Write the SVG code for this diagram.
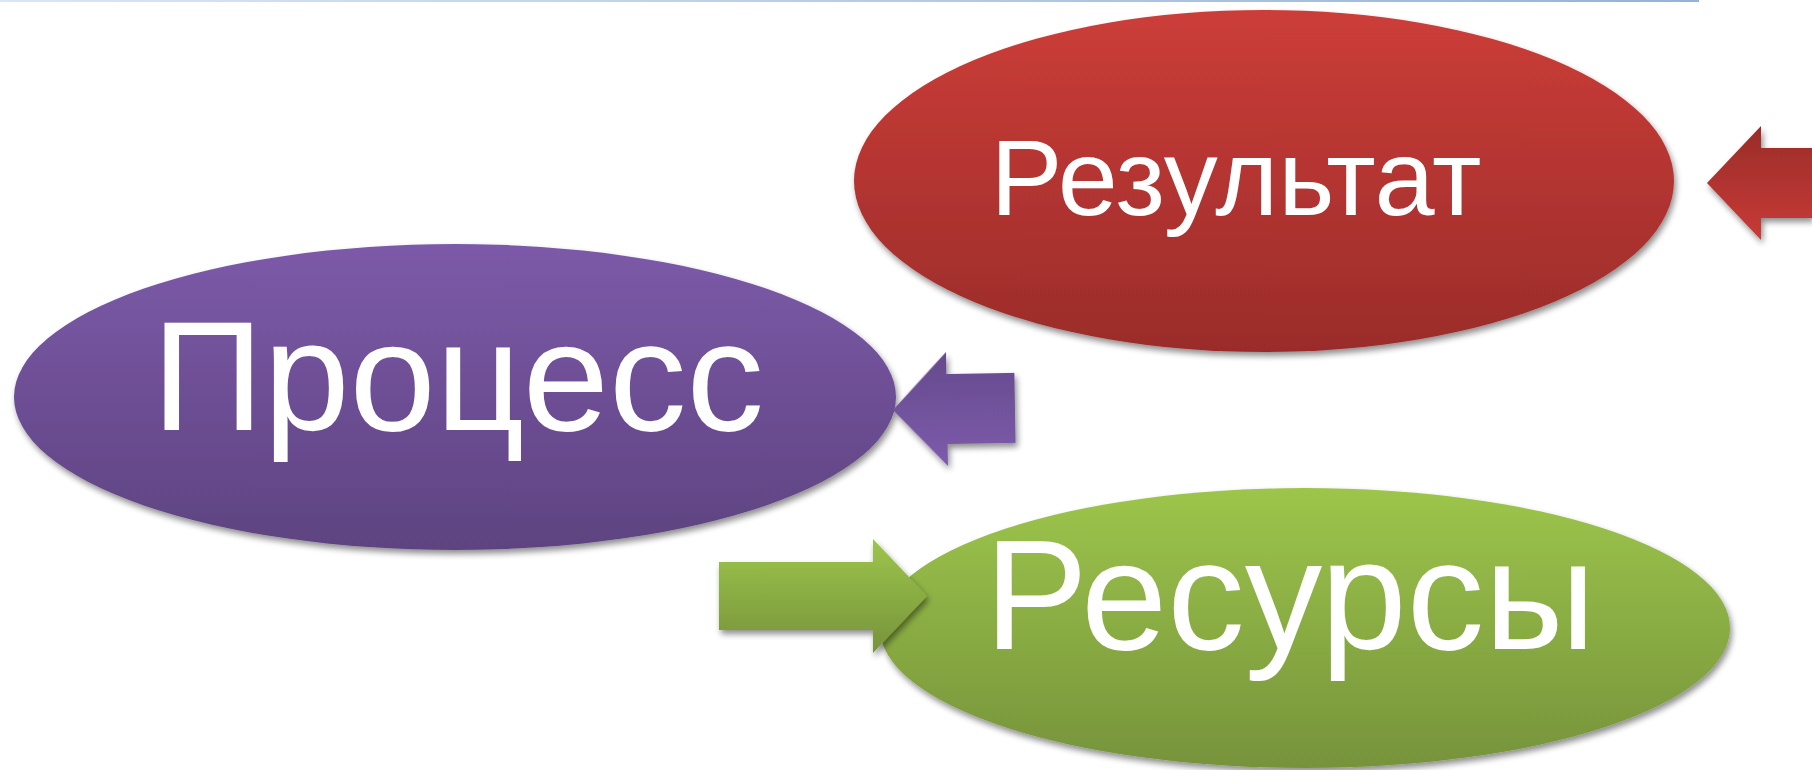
<svg xmlns="http://www.w3.org/2000/svg" width="1812" height="770" viewBox="0 0 1812 770">
  <defs>
    <linearGradient id="gPurple" x1="0" y1="0" x2="0" y2="1">
      <stop offset="0" stop-color="#7c5aa9"/>
      <stop offset="1" stop-color="#5e4380"/>
    </linearGradient>
    <linearGradient id="gPurpleR" x1="0" y1="0" x2="0" y2="1">
      <stop offset="0" stop-color="#654a8c"/>
      <stop offset="1" stop-color="#7d5bab"/>
    </linearGradient>
    <linearGradient id="gRed" x1="0" y1="0" x2="0" y2="1">
      <stop offset="0" stop-color="#cc3d38"/>
      <stop offset="1" stop-color="#9a2c2a"/>
    </linearGradient>
    <linearGradient id="gRedR" x1="0" y1="0" x2="0" y2="1">
      <stop offset="0" stop-color="#992c29"/>
      <stop offset="1" stop-color="#c83b37"/>
    </linearGradient>
    <linearGradient id="gGreen" x1="0" y1="0" x2="0" y2="1">
      <stop offset="0" stop-color="#9dc54b"/>
      <stop offset="1" stop-color="#76933b"/>
    </linearGradient>
    <linearGradient id="gLine" x1="0" y1="0" x2="1" y2="0">
      <stop offset="0" stop-color="#dbe6f3"/>
      <stop offset="1" stop-color="#95b3d7"/>
    </linearGradient>
    <filter id="shadow" x="-10%" y="-10%" width="120%" height="130%">
      <feGaussianBlur in="SourceAlpha" stdDeviation="3"/>
      <feOffset dx="2" dy="4" result="b"/>
      <feComponentTransfer><feFuncA type="linear" slope="0.45"/></feComponentTransfer>
      <feMerge><feMergeNode/><feMergeNode in="SourceGraphic"/></feMerge>
    </filter>
    <style>
      .lbl { font-family: "Liberation Sans", Arial, sans-serif; fill: #ffffff; text-anchor: middle; }
    </style>
  </defs>
  <rect x="0" y="0" width="1812" height="770" fill="#ffffff"/>
  <rect x="0" y="0" width="1699" height="2" fill="url(#gLine)"/>

  <g id="node-process">
    <ellipse cx="455" cy="397" rx="441" ry="153" fill="url(#gPurple)" filter="url(#shadow)"/>
    <text class="lbl" x="458" y="430" font-size="155">Процесс</text>
  </g>
  <g id="node-result">
    <ellipse cx="1264" cy="181" rx="410" ry="171" fill="url(#gRed)" filter="url(#shadow)"/>
    <text class="lbl" x="1236" y="215" font-size="108">Результат</text>
  </g>
  <g id="node-resources">
    <ellipse cx="1305" cy="628" rx="425" ry="140" fill="url(#gGreen)" filter="url(#shadow)"/>
    <text class="lbl" x="1290" y="649" font-size="155">Ресурсы</text>
  </g>

  <g id="connectors">
    <polygon points="1707,183 1761,126 1761,148 1812,148 1812,218 1761,218 1761,240" fill="url(#gRedR)" filter="url(#shadow)"/>
    <polygon transform="rotate(-1 893 410)" points="893,410 947,353 947,375 1015,375 1015,445 947,445 947,467" fill="url(#gPurpleR)" filter="url(#shadow)"/>
    <polygon points="927,596 873,539 873,562 719,562 719,630 873,630 873,653" fill="url(#gGreen)" filter="url(#shadow)"/>
  </g>
</svg>
